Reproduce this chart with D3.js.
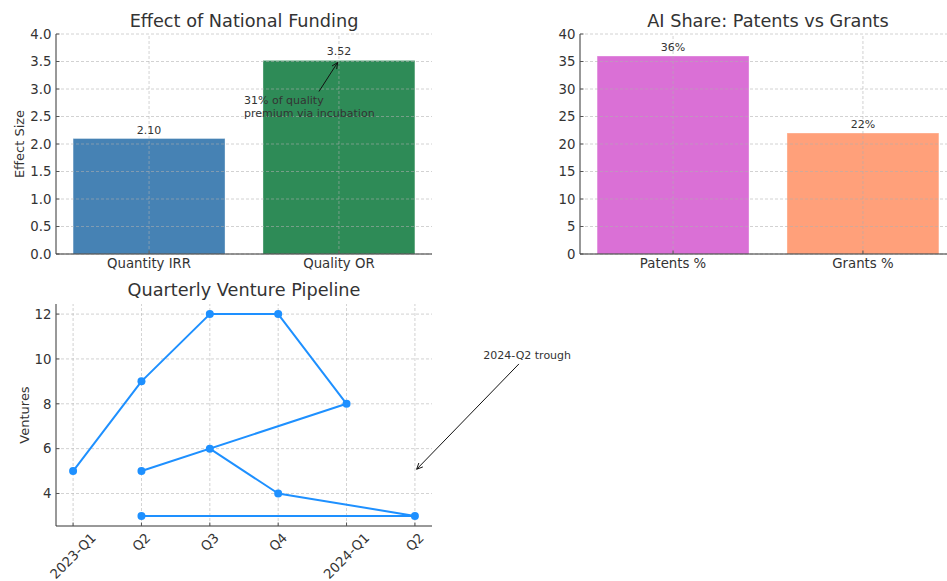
<!DOCTYPE html>
<html>
<head>
<meta charset="utf-8">
<script src="https://cdn.jsdelivr.net/npm/d3@7"></script>
<style>
  body { margin: 0; background: #fff; }
  svg { display: block; font-family: "DejaVu Sans", sans-serif; }
  .tick-label { font-size: 13.3px; fill: #333; }
  .grid line { stroke: #b0b0b0; stroke-width: 0.8; stroke-dasharray: 3,2; opacity: 0.7; }
</style>
</head>
<body>
<div id="chart"></div>
<script>
/**
 * DATA
 * */
const fundingCategories = ["Quantity IRR", "Quality OR"];
const fundingValues = [2.10, 3.52];
const fundingColors = ["#4682b4", "#2e8b57"];
const fundingTicks = [0, 0.5, 1, 1.5, 2, 2.5, 3, 3.5, 4];

const shareCategories = ["Patents %", "Grants %"];
const shareValues = [36, 22];
const shareColors = ["#da70d6", "#ffa07a"];
const shareTicks = [0, 5, 10, 15, 20, 25, 30, 35, 40];

// tick labels of the quarter axis, and the order the points were plotted in
const quarterLabels = ["2023-Q1", "Q2", "Q3", "Q4", "2024-Q1", "Q2"];
const pipelineSlots = [0, 1, 2, 3, 4, 1, 2, 3, 5, 1];
const pipelineValues = [5, 9, 12, 12, 8, 5, 6, 4, 3, 3];
const pipelineTicks = [4, 6, 8, 10, 12];

/**
 * CONSTANTS
 * */
const width = 947, height = 581;
const textColor = "#333";

const svg = d3.select("#chart")
  .append("svg")
  .attr("width", width)
  .attr("height", height);

// arrow like matplotlib's "->": starts on the edge of the text box, stops a little short of the target
function arrow(textNode, tx, ty) {
  const b = textNode.getBBox();
  const pad = 2;
  const cx = b.x + b.width / 2, cy = b.y + b.height / 2;
  const dx = tx - cx, dy = ty - cy;
  const s = Math.min((b.width / 2 + pad) / Math.abs(dx), (b.height / 2 + pad) / Math.abs(dy));
  const x1 = cx + dx * s, y1 = cy + dy * s;
  const len = Math.hypot(tx - x1, ty - y1);
  const ux = (tx - x1) / len, uy = (ty - y1) / len;
  const x2 = tx - ux * 2.5, y2 = ty - uy * 2.5;
  const hl = 6, hw = 2.8;
  const p = d3.path();
  p.moveTo(x1, y1); p.lineTo(x2, y2);
  p.moveTo(x2 - ux * hl - uy * hw, y2 - uy * hl + ux * hw);
  p.lineTo(x2, y2);
  p.lineTo(x2 - ux * hl + uy * hw, y2 - uy * hl - ux * hw);
  svg.append("path")
    .attr("d", p.toString())
    .attr("fill", "none")
    .attr("stroke", "#111")
    .attr("stroke-width", 1);
}

function frame(x, y, ticksX, ticksY, fmtY) {
  const [x0, x1] = x.range();
  const [y0, y1] = y.range();
  const g = svg.append("g");
  // grid (drawn on top of marks later)
  const grid = svg.append("g").attr("class", "grid");
  grid.selectAll(".gy").data(ticksY).join("line")
    .attr("x1", x0).attr("x2", x1)
    .attr("y1", d => y(d)).attr("y2", d => y(d));
  grid.selectAll(".gx").data(ticksX).join("line")
    .attr("x1", d => x(d)).attr("x2", d => x(d))
    .attr("y1", y0).attr("y2", y1);
  // spines
  svg.append("line").attr("x1", x0).attr("x2", x0).attr("y1", y0).attr("y2", y1)
    .attr("stroke", "#333").attr("stroke-width", 1);
  svg.append("line").attr("x1", x0).attr("x2", x1).attr("y1", y0).attr("y2", y0)
    .attr("stroke", "#333").attr("stroke-width", 1);
  // inward ticks
  svg.append("g").selectAll("line").data(ticksY).join("line")
    .attr("x1", x0).attr("x2", x0 + 3.5)
    .attr("y1", d => y(d)).attr("y2", d => y(d))
    .attr("stroke", "#555");
  svg.append("g").selectAll("line").data(ticksX).join("line")
    .attr("x1", d => x(d)).attr("x2", d => x(d))
    .attr("y1", y0).attr("y2", y0 - 3.5)
    .attr("stroke", "#555");
  // y tick labels
  svg.append("g").selectAll("text").data(ticksY).join("text")
    .attr("class", "tick-label")
    .attr("x", x0 - 4.5)
    .attr("y", d => y(d))
    .attr("dy", "0.36em")
    .attr("text-anchor", "end")
    .text(fmtY);
  return { grid };
}

function title(txt, x, y) {
  svg.append("text")
    .attr("x", x).attr("y", y)
    .attr("text-anchor", "middle")
    .attr("fill", textColor)
    .style("font-size", "17.7px")
    .text(txt);
}

function yLabel(txt, x, y) {
  svg.append("text")
    .attr("transform", `translate(${x},${y}) rotate(-90)`)
    .attr("text-anchor", "middle")
    .attr("dy", "0.36em")
    .attr("fill", textColor)
    .style("font-size", "13px")
    .text(txt);
}

function barPanel(left, cats, vals, colors, ticks, yMax, fmtY, fmtVal) {
  const x = d3.scaleLinear().domain([-0.49, 1.49]).range([left, left + 376]);
  const y = d3.scaleLinear().domain([0, yMax]).range([254, 34]);
  const idx = d3.range(cats.length);

  svg.append("g").selectAll("rect").data(idx).join("rect")
    .attr("x", i => x(i - 0.4))
    .attr("width", i => x(i + 0.4) - x(i - 0.4))
    .attr("y", i => y(vals[i]))
    .attr("height", i => y(0) - y(vals[i]))
    .attr("fill", i => colors[i])
    .attr("stroke", "#fff")
    .attr("stroke-opacity", 0.35)
    .attr("stroke-width", 1);

  const f = frame(x, y, idx, ticks, fmtY);

  svg.append("g").selectAll("text").data(idx).join("text")
    .attr("class", "tick-label")
    .attr("x", i => x(i))
    .attr("y", 258)
    .attr("dy", "0.76em")
    .attr("text-anchor", "middle")
    .text(i => cats[i]);

  svg.append("g").selectAll("text").data(idx).join("text")
    .attr("x", i => x(i))
    .attr("y", i => y(vals[i]) - 5)
    .attr("text-anchor", "middle")
    .attr("fill", textColor)
    .style("font-size", "11px")
    .text(i => fmtVal(vals[i]));

  return { x, y };
}

/**
 * PANEL 1: Effect of National Funding
 * */
const p1 = barPanel(56, fundingCategories, fundingValues, fundingColors, fundingTicks, 4,
  d3.format(".1f"), d3.format(".2f"));
title("Effect of National Funding", 244, 27);
yLabel("Effect Size", 19, 144);

const note1 = svg.append("text")
  .attr("fill", textColor)
  .style("font-size", "11px");
note1.append("tspan").attr("x", p1.x(0.5)).attr("y", p1.y(2.5) - 13).text("31% of quality");
note1.append("tspan").attr("x", p1.x(0.5)).attr("y", p1.y(2.5)).text("premium via incubation");
arrow(note1.node(), p1.x(1), p1.y(fundingValues[1]));

/**
 * PANEL 2: AI Share
 * */
barPanel(580, shareCategories, shareValues, shareColors, shareTicks, 40,
  d3.format("d"), d => d + "%");
title("AI Share: Patents vs Grants", 768, 27);

/**
 * PANEL 3: Quarterly Venture Pipeline
 * */
const x3 = d3.scaleLinear().domain([-0.25, 5.25]).range([56, 432]);
const y3 = d3.scaleLinear().domain([2.55, 12.45]).range([526, 304]);
const slots = d3.range(quarterLabels.length);

frame(x3, y3, slots, pipelineTicks, d3.format("d"));

const pts = pipelineSlots.map((s, i) => [s, pipelineValues[i]]);
svg.append("path")
  .datum(pts)
  .attr("d", d3.line().x(d => x3(d[0])).y(d => y3(d[1])))
  .attr("fill", "none")
  .attr("stroke", "#1e90ff")
  .attr("stroke-width", 2)
  .attr("stroke-linejoin", "round");
svg.append("g").selectAll("circle").data(pts).join("circle")
  .attr("cx", d => x3(d[0]))
  .attr("cy", d => y3(d[1]))
  .attr("r", 4)
  .attr("fill", "#1e90ff");

// rotated quarter labels, box centred under the tick
const qLab = svg.append("g").selectAll("text").data(slots).join("text")
  .attr("class", "tick-label")
  .attr("text-anchor", "middle")
  .attr("dominant-baseline", "central")
  .text(i => quarterLabels[i]);
qLab.attr("transform", function (i) {
  const w = this.getComputedTextLength();
  const h = 15.5;
  const cy = 530 + (w + h) / (2 * Math.SQRT2);
  return `translate(${x3(i)},${cy}) rotate(-45)`;
});

title("Quarterly Venture Pipeline", 244, 296);
yLabel("Ventures", 24, 415);

const note2 = svg.append("text")
  .attr("x", x3(6))
  .attr("y", y3(10))
  .attr("fill", textColor)
  .style("font-size", "11px")
  .text("2024-Q2 trough");
arrow(note2.node(), x3(5), y3(5));
</script>
</body>
</html>
